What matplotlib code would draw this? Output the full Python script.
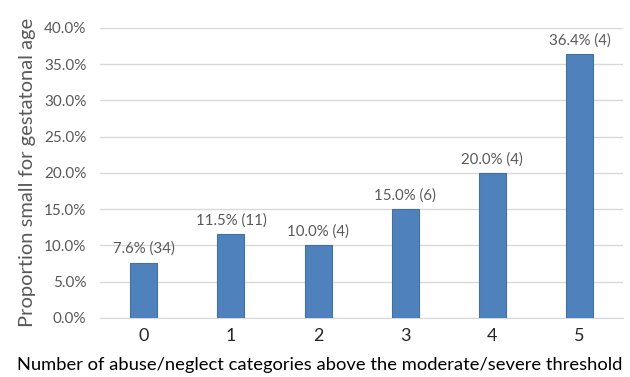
import matplotlib
matplotlib.use("Agg")
import matplotlib.pyplot as plt
from matplotlib.ticker import FuncFormatter, MultipleLocator

categories = ["0", "1", "2", "3", "4", "5"]
proportions = [7.6, 11.5, 10.0, 15.0, 20.0, 36.4]
counts = [34, 11, 4, 6, 4, 4]

plt.rcParams["font.family"] = ["Lato", "DejaVu Sans"]

fig = plt.figure(figsize=(6.3, 3.77), dpi=100)
ax = fig.add_axes([0.159, 0.157, 0.83, 0.769])

x = range(len(categories))
ax.bar(x, proportions, width=0.31, color="#4f81bd", edgecolor="#41719c",
       linewidth=0.8, zorder=3)

for xi, p, n in zip(x, proportions, counts):
    ax.text(xi, p + 0.9, f"{p:.1f}% ({n})", ha="center", va="bottom",
            fontsize=10.8, color="#595959")

ax.set_xlim(-0.5, len(categories) - 0.5)
ax.set_ylim(0, 40)
ax.yaxis.set_major_locator(MultipleLocator(5))
ax.yaxis.set_major_formatter(FuncFormatter(lambda v, _: f"{v:.1f}%"))
ax.set_xticks(list(x))
ax.set_xticklabels(categories, fontsize=13, color="#262626")
ax.tick_params(axis="y", labelsize=11, labelcolor="#595959", length=0, pad=10)
ax.tick_params(axis="x", length=0, pad=7)

ax.grid(axis="y", color="#d9d9d9", linewidth=1, zorder=0)
for side in ["top", "right", "left"]:
    ax.spines[side].set_visible(False)
ax.spines["bottom"].set_color("#d9d9d9")

ax.set_ylabel("Proportion small for gestatonal age", fontsize=14.5,
              color="#595959", labelpad=6)

# x title is centred on the figure, not the plot area
fig.text(0.508, 0.032,
         "Number of abuse/neglect categories above the moderate/severe threshold",
         ha="center", va="center", fontsize=13.2, color="#000000")

fig.savefig("out.png", dpi=100)
